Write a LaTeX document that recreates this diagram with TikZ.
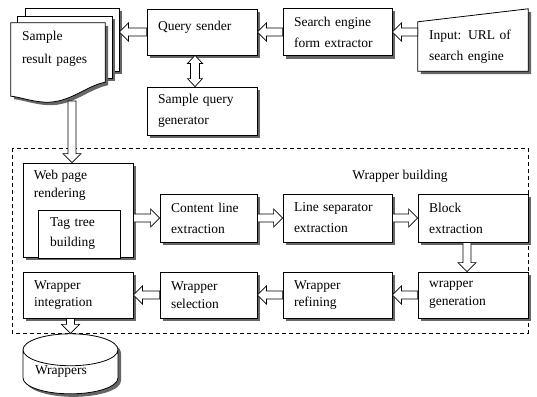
\documentclass[tikz,border=0pt]{standalone}
\usepackage{fontspec}
\setmainfont{Liberation Serif}
\usetikzlibrary{positioning, calc, shadows, shapes.geometric, backgrounds}

\begin{document}
\begin{tikzpicture}[
  x=1pt, y=-1pt,
  font=\fontsize{13.5}{21}\selectfont,
  shade/.style={drop shadow={shadow xshift=3pt, shadow yshift=-3pt,
                fill=black!60, opacity=1}},
  box/.style={rectangle, draw, line width=0.8pt, fill=white, shade,
              align=left, inner xsep=11pt, inner ysep=0pt},
  plain/.style={rectangle, align=left, inner xsep=11pt, inner ysep=0pt},
  tight/.style={font=\fontsize{13.5}{17.5}\selectfont},
  lbl/.style={anchor=north west, align=left, inner xsep=11pt, inner ysep=7pt,
              font=\fontsize{13.5}{18}\selectfont},
  frame/.style={dash pattern=on 4pt off 3pt, line width=1pt},
  hollow/.style={draw, line width=0.7pt, fill=white, to path={
    let \p1=(\tikztostart), \p2=(\tikztotarget),
        \n1={atan2(\y2-\y1,\x2-\x1)}, \n2={veclen(\x2-\x1,\y2-\y1)-9pt} in
    ($(\p1)+(\n1+90:4pt)$) -- ($(\p1)+(\n1:\n2)+(\n1+90:4pt)$)
    -- ($(\p1)+(\n1:\n2)+(\n1+90:9pt)$) -- (\p2)
    -- ($(\p1)+(\n1:\n2)+(\n1-90:9pt)$) -- ($(\p1)+(\n1:\n2)+(\n1-90:4pt)$)
    -- ($(\p1)+(\n1-90:4pt)$) -- cycle}},
  hollowboth/.style={draw, line width=0.7pt, fill=white, to path={
    let \p1=(\tikztostart), \p2=(\tikztotarget),
        \n1={atan2(\y2-\y1,\x2-\x1)}, \n2={veclen(\x2-\x1,\y2-\y1)-8pt} in
    (\p1) -- ($(\p1)+(\n1:8pt)+(\n1+90:7.5pt)$) -- ($(\p1)+(\n1:8pt)+(\n1+90:4.5pt)$)
    -- ($(\p1)+(\n1:\n2)+(\n1+90:4.5pt)$) -- ($(\p1)+(\n1:\n2)+(\n1+90:7.5pt)$)
    -- (\p2)
    -- ($(\p1)+(\n1:\n2)+(\n1-90:7.5pt)$) -- ($(\p1)+(\n1:\n2)+(\n1-90:4.5pt)$)
    -- ($(\p1)+(\n1:8pt)+(\n1-90:4.5pt)$) -- ($(\p1)+(\n1:8pt)+(\n1-90:7.5pt)$)
    -- cycle}},
]
\useasboundingbox (0,0) rectangle (537,396);

% wrapper building frame
\draw[frame] (12,148) rectangle (528,333);
\node (wbtitle) at (400,176) {Wrapper building};

% query side
\node[box, minimum width=110pt, minimum height=46pt, text width=88pt, text depth=12pt]
  (qsend) at (202,32) {Query sender};
\node[box, minimum width=110pt, minimum height=48pt, text width=88pt]
  (qgen) at (202,111) {Sample query\\generator};
\node[box, minimum width=109pt, minimum height=47pt, text width=87pt]
  (sefe) at (337.5,32) {Search engine\\form extractor};
\node[plain, minimum width=110pt, minimum height=49pt, text width=88pt]
  (input) at (473,46.5) {Input: URL of\\search engine};
\node[plain, minimum width=94pt, minimum height=51pt, text width=72pt, font=\fontsize{13.5}{23}\selectfont]
  (pages) at (58,48.5) {Sample\\result pages};

\begin{pgfonlayer}{background}
  \draw[line width=0.8pt, fill=white, shade] (input.south west) -- (input.south east)
    -- ($(input.north east)+(0,-13)$) -- (input.north west) -- cycle;
  \node[box, minimum width=94pt, minimum height=63pt] (back) at (72,39.5) {};
  \node[box, minimum width=95pt, minimum height=62pt] (middle) at (64.5,47) {};
  \draw[line width=0.8pt, fill=white, shade] (pages.north west) -- (pages.north east)
    -- ($(pages.south east)+(0,8)$) .. controls +(-20,4) and +(25,1) .. ($(pages.south west)+(34,28)$)
    .. controls +(-15,-1) and +(10,1) .. ($(pages.south west)+(0,22)$) -- cycle;
\end{pgfonlayer}
\coordinate (pagesS) at (72,101);

% wrapper building steps
\node[box, minimum width=110pt, minimum height=94pt,
  label={[lbl]north west:{Web page\\rendering}}] (wpr) at (78,210) {};
\node[draw, line width=0.8pt, fill=white, align=left, inner xsep=12pt, inner ysep=0pt,
  minimum width=82pt, minimum height=48pt, text width=58pt, font=\fontsize{13.5}{20}\selectfont]
  (ttb) at (79,234) {Tag tree\\building};
\node[box, minimum width=97pt, minimum height=48pt, text width=75pt]
  (cle) at (208.5,218) {Content line\\extraction};
\node[box, minimum width=109pt, minimum height=48pt, text width=87pt]
  (lse) at (337.5,218) {Line separator\\extraction};
\node[box, minimum width=110pt, minimum height=48pt, text width=88pt]
  (be) at (473,218) {Block\\extraction};
\node[box, tight, minimum width=110pt, minimum height=46pt, text width=88pt]
  (wi) at (78,295) {Wrapper\\integration};
\node[box, tight, minimum width=97pt, minimum height=46pt, text width=75pt]
  (ws) at (208.5,295) {Wrapper\\selection};
\node[box, tight, minimum width=109pt, minimum height=46pt, text width=87pt]
  (wr) at (337.5,295) {Wrapper\\refining};
\node[box, tight, minimum width=110pt, minimum height=46pt, text width=88pt]
  (wg) at (473,295) {wrapper\\generation};

% output store
\node[cylinder, shape border rotate=90, aspect=0.45, draw, line width=0.8pt, fill=white, shade,
  minimum width=95pt, minimum height=45pt, align=left, text width=71pt, inner sep=0pt]
  (store) at (70.5,372) {Wrappers};

% connectors
\draw[hollow] (input.west |- sefe.east) to (sefe.east);
\draw[hollow] (sefe.west) to (qsend.east);
\draw[hollow] (qsend.west) to (back.east |- qsend.west);
\draw[hollowboth] ([xshift=-7pt]qsend.south) to ([xshift=-7pt]qgen.north);
\draw[hollow] (pagesS) to (pagesS |- wpr.north);
\draw[hollow] (wpr.east |- cle.west) to (cle.west);
\draw[hollow] (cle.east) to (lse.west);
\draw[hollow] (lse.east) to (be.west);
\draw[hollow] ([xshift=-6pt]be.south) to ([xshift=-6pt]wg.north);
\draw[hollow] (wg.west) to (wr.east);
\draw[hollow] (wr.west) to (ws.east);
\draw[hollow] (ws.west) to (wi.east);
\draw[hollow] (wi.south -| store.north) to (store.north);
\end{tikzpicture}
\end{document}
